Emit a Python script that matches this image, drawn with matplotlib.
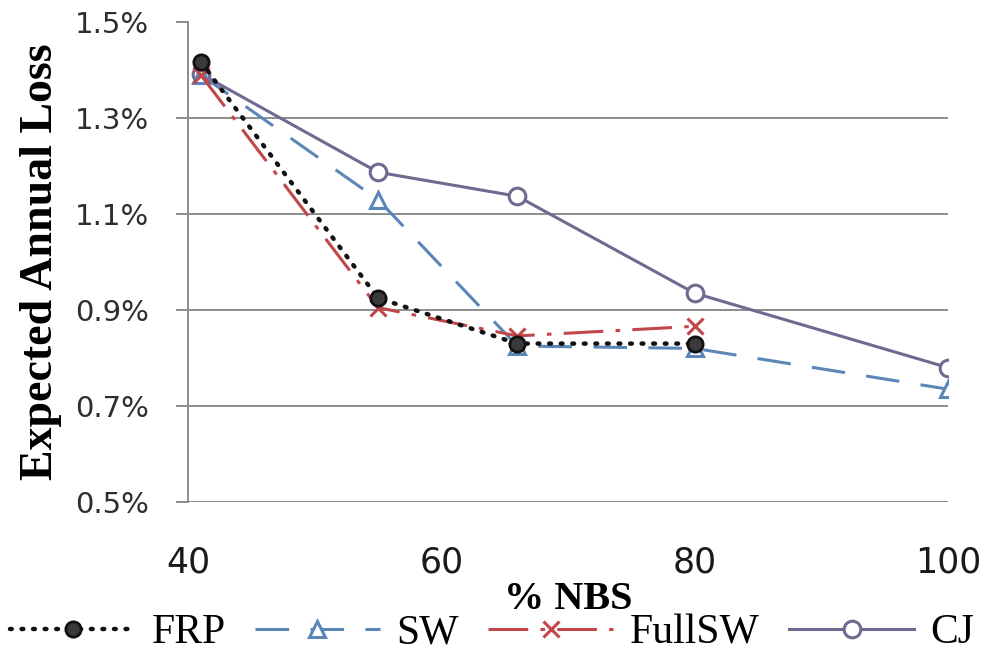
import matplotlib
matplotlib.use("Agg")
import matplotlib.pyplot as plt
from matplotlib.ticker import FuncFormatter

# % NBS retrofit levels and expected annual loss (%) per scheme
nbs_frp = [41, 55, 66, 80]
eal_frp = [1.417, 0.925, 0.830, 0.830]

nbs_sw = [41, 55, 66, 80, 100]
eal_sw = [1.390, 1.130, 0.825, 0.820, 0.735]

nbs_fullsw = [41, 55, 66, 80]
eal_fullsw = [1.390, 0.905, 0.846, 0.866]

nbs_cj = [41, 55, 66, 80, 100]
eal_cj = [1.392, 1.187, 1.137, 0.935, 0.780]

series_labels = ["FRP", "SW", "FullSW", "CJ"]
x_ticks = [40, 60, 80, 100]
y_ticks = [0.5, 0.7, 0.9, 1.1, 1.3, 1.5]

fig = plt.figure(figsize=(10.03, 6.62), dpi=100)
ax = fig.add_axes([188 / 1003, 1 - 502 / 662, 760 / 1003, 480 / 662])

grid_c = "#8c8c8c"
for yv in y_ticks[:-1]:
    ax.axhline(yv, color=grid_c, lw=1.4, zorder=1)

c_frp = "#111111"
c_sw = "#5a86b8"
c_full = "#c2474a"
c_cj = "#6f6a90"

ax.plot(nbs_cj, eal_cj, color=c_cj, lw=2.2, marker="o", ms=12,
        mfc="white", mec=c_cj, mew=2.2, label=series_labels[3], zorder=3)
ax.plot(nbs_sw, eal_sw, color=c_sw, lw=2.2, dashes=(11, 7), marker="^", ms=12,
        mfc="white", mec=c_sw, mew=2.2, label=series_labels[1], zorder=4)
ax.plot(nbs_fullsw, eal_fullsw, color=c_full, lw=2.2, dashes=(13, 4, 1.5, 4),
        marker="x", ms=11, mec=c_full, mew=2.2, label=series_labels[2], zorder=5)
ax.plot(nbs_frp, eal_frp, color=c_frp, lw=3.2, dashes=(0.4, 2.2),
        dash_capstyle="round", marker="o", ms=11, mfc="#3a3a3a", mec=c_frp,
        mew=2, label=series_labels[0], zorder=6)

ax.set_xlim(40, 100)
ax.set_ylim(0.5, 1.5)
ax.set_xticks(x_ticks)
ax.set_yticks(y_ticks)
ax.yaxis.set_major_formatter(FuncFormatter(lambda v, p: f"{v:.1f}%"))

for s in ["top", "right", "bottom"]:
    ax.spines[s].set_visible(False)
ax.spines["left"].set_color(grid_c)
ax.spines["left"].set_linewidth(1.4)
ax.tick_params(axis="y", direction="out", length=9, width=1.4, color=grid_c,
               labelsize=21, labelcolor="#2e2e2e", pad=19)
ax.tick_params(axis="x", length=0, labelsize=25, labelcolor="#1a1a1a", pad=31)

ax.set_ylabel("Expected Annual Loss", family="Liberation Serif",
              fontweight="bold", fontsize=33)
ax.yaxis.set_label_coords(-0.166, 0.5)
ax.set_xlabel("% NBS", family="Liberation Serif", fontweight="bold",
              fontsize=29)
ax.xaxis.set_label_coords(0.5, -0.165)

h, l = ax.get_legend_handles_labels()
order = [3, 1, 2, 0]
fig.legend([h[i] for i in order], [l[i] for i in order], loc="center left",
           bbox_to_anchor=(0.01, 1 - 633 / 662), ncol=4, frameon=False,
           prop={"family": "Liberation Serif", "size": 30}, numpoints=1,
           handlelength=3.0, handletextpad=0.4, columnspacing=0.7,
           borderpad=0, borderaxespad=0)

fig.savefig("out.png", dpi=100)
